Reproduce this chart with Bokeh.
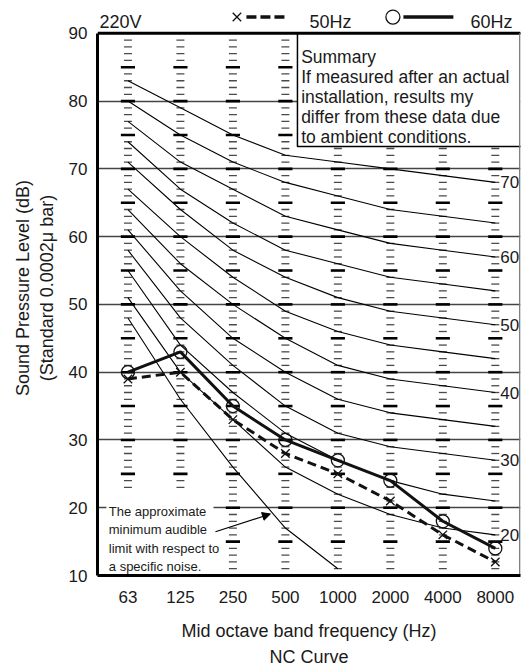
import math
from bokeh.plotting import figure
from bokeh.models import Range1d, FixedTicker, Arrow, NormalHead
from bokeh.core.properties import value
from bokeh.embed import file_html
from bokeh.resources import INLINE

# ---------------- data ----------------
freqs = ["63", "125", "250", "500", "1000", "2000", "4000", "8000"]
hz60 = [40, 43, 35, 30, 27, 24, 18, 14]
hz50 = [39, 40, 33, 28, 25, 21, 16, 12]

nc70 = [83, 79, 75, 72, 71, 70, 69, 68]
nc65 = [80, 75, 71, 68, 66, 64, 63, 62]
nc60 = [77, 71, 67, 63, 61, 59, 58, 57]
nc55 = [74, 67, 62, 58, 56, 54, 53, 52]
nc50 = [71, 64, 58, 54, 51, 49, 48, 47]
nc45 = [67, 60, 54, 49, 46, 44, 43, 42]
nc40 = [64, 56, 50, 45, 41, 39, 38, 37]
nc35 = [61, 52, 45, 40, 36, 34, 33, 32]
nc30 = [58, 48, 41, 35, 31, 29, 28, 27]
nc25 = [55, 44, 37, 31, 27, 24, 22, 21]
nc20 = [51, 40, 33, 26, 22, 19, 17, 16]
min_audible = [48, 36, 26, 17, 11]          # 63 .. 1000 Hz

nc_curves = [nc70, nc65, nc60, nc55, nc50, nc45, nc40, nc35, nc30, nc25, nc20]
nc_labelled = {"70": nc70, "60": nc60, "50": nc50, "40": nc40, "30": nc30, "20": nc20}

y_ticks = [10, 20, 30, 40, 50, 60, 70, 80, 90]
grid_levels = [20, 30, 40, 50, 60, 70, 80]

summary_lines = ["Summary", "If measured after an actual", "installation, results my",
                 "differ from these data due", "to ambient conditions."]
note_lines = ["The approximate", "minimum audible", "limit with respect to", "a specific noise."]

FONT = "Liberation Sans"
INK = "#1a1a1a"

xs = list(range(len(freqs)))

p = figure(width=521, height=669,
           x_range=Range1d(-0.58, 7.48), y_range=Range1d(10, 94.84),
           output_backend="svg", toolbar_location=None,
           min_border_left=97, min_border_right=1, min_border_top=0, min_border_bottom=90)
p.outline_line_color = None
p.background_fill_color = "white"
p.border_fill_color = "white"

# grid
p.xgrid.visible = False
p.ygrid.ticker = FixedTicker(ticks=grid_levels)
p.ygrid.grid_line_color = "#444444"
p.ygrid.grid_line_width = 1.3

# axes
xa = p.xaxis[0]
xa.ticker = FixedTicker(ticks=xs)
xa.major_label_overrides = {i: f for i, f in enumerate(freqs)}
xa.axis_line_width = 3
xa.axis_line_color = "black"
xa.major_tick_line_color = None
xa.minor_tick_line_color = None
xa.major_label_text_font = FONT
xa.major_label_text_font_size = "17px"
xa.major_label_text_color = INK
xa.major_label_standoff = 9
xa.axis_label = "Mid octave band frequency (Hz)\nNC Curve"
xa.axis_label_text_font = FONT
xa.axis_label_text_font_style = "normal"
xa.axis_label_text_font_size = "18px"
xa.axis_label_text_color = INK
xa.axis_label_text_line_height = 1.3
xa.axis_label_standoff = 15

ya = p.yaxis[0]
ya.ticker = FixedTicker(ticks=y_ticks)
ya.bounds = (10, 90)
ya.axis_line_width = 3
ya.axis_line_color = "black"
ya.major_tick_line_color = None
ya.minor_tick_line_color = None
ya.major_label_text_font = FONT
ya.major_label_text_font_size = "17px"
ya.major_label_text_color = INK
ya.major_label_standoff = 4
ya.axis_label = "Sound Pressure Level (dB)\n(Standard 0.0002\u03bc bar)"
ya.axis_label_text_font = FONT
ya.axis_label_text_font_style = "normal"
ya.axis_label_text_font_size = "18px"
ya.axis_label_text_color = INK
ya.axis_label_standoff = 9

# dash columns (every 1 dB, longer/bolder every 5 dB)
sx0, sx1, sy, bx0, bx1, by = [], [], [], [], [], []
for i in xs:
    for db in range(11, 90):
        if db % 5 == 0:
            bx0.append(i - 0.135); bx1.append(i + 0.135); by.append(db)
        else:
            sx0.append(i - 0.076); sx1.append(i + 0.076); sy.append(db)
p.segment(x0=sx0, y0=sy, x1=sx1, y1=sy, line_color="#4a4a4a", line_width=1.3)
p.segment(x0=bx0, y0=by, x1=bx1, y1=by, line_color="black", line_width=2.6)

# NC curves
p.multi_line([xs] * len(nc_curves), nc_curves, line_color="black", line_width=1.1)
p.line(xs[:len(min_audible)], min_audible, line_color="black", line_width=1.1)

# data series
p.line(xs, hz50, line_color="#111111", line_width=3, line_dash="9 5")
p.scatter(xs, hz50, marker="x", size=12, line_color="#111111", line_width=1.3)
p.line(xs, hz60, line_color="#111111", line_width=3)
p.scatter(xs, hz60, marker="circle", size=13, fill_color=None,
          line_color="#111111", line_width=1.3)

# summary box
p.quad(left=3.23, right=7.52, bottom=73.3, top=90, fill_color="white",
       line_color="black", line_width=1.5)
p.text(x=[3.30] * len(summary_lines), y=[86.53, 83.60, 80.67, 77.69, 74.76],
       text=summary_lines, text_font=value(FONT), text_font_size="17.5px",
       text_color=INK, text_baseline="alphabetic", text_align="left")

# note box
p.quad(left=-0.41, right=1.63, bottom=10, top=22.6, fill_color="white", line_color=None)
p.text(x=[-0.365] * len(note_lines), y=[19.38, 16.74, 13.96, 11.32],
       text=note_lines, text_font=value(FONT), text_font_size="13px",
       text_color=INK, text_baseline="alphabetic", text_align="left")
p.add_layout(Arrow(end=NormalHead(size=8, fill_color="black", line_color="black", line_width=1),
                   x_start=1.668, y_start=16.45, x_end=2.715, y_end=19.08,
                   line_color="black", line_width=1.2))

# NC labels at right end
lab_names = list(nc_labelled.keys())
p.text(x=[7.096] * len(lab_names), y=[nc_labelled[k][-1] for k in lab_names],
       text=lab_names, text_font=value(FONT), text_font_size="17px",
       text_color=INK, text_baseline="middle", text_align="left")

# frame: top and right border
p.segment(x0=[-0.58], y0=[90], x1=[7.48], y1=[90], line_color="black", line_width=3)
p.segment(x0=[7.467], y0=[10], x1=[7.467], y1=[90], line_color="#777777", line_width=1.5)

# top legend
p.text(x=[-0.542, 3.458, 6.525], y=[91.6] * 3, text=["220V", "50Hz", "60Hz"],
       text_font=value(FONT), text_font_size="18px", text_color=INK,
       text_baseline="alphabetic", text_align="left")
p.scatter([2.077], [92.4], marker="x", size=12, line_color="#111111", line_width=1.3)
p.segment(x0=[2.258], y0=[92.4], x1=[3.001], y1=[92.4], line_color="#111111",
          line_width=3.5, line_dash="10 4")
p.scatter([5.049], [92.4], marker="circle", size=14, fill_color=None,
          line_color="#111111", line_width=1.3)
p.segment(x0=[5.249], y0=[92.4], x1=[6.201], y1=[92.4], line_color="#111111",
          line_width=3.5)

open("out.html", "w").write(file_html(p, INLINE))
